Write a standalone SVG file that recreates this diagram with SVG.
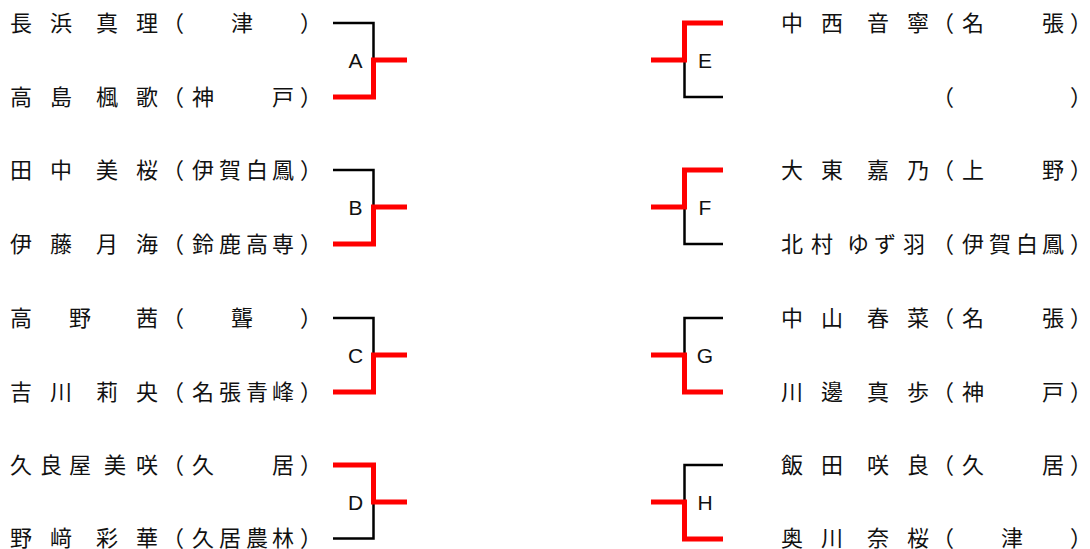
<svg xmlns="http://www.w3.org/2000/svg" width="1090" height="549" viewBox="0 0 1090 549">
<style>
.n{font-family:"Noto Sans CJK JP","Noto Sans CJK SC",sans-serif;font-size:22px;fill:#111}
.m{font-family:"Liberation Sans",Arial,sans-serif;font-size:21px;fill:#111;text-anchor:middle}
.k{fill:none;stroke:#000;stroke-width:2.5;stroke-linejoin:miter;stroke-linecap:butt}
.r{fill:none;stroke:#f00;stroke-width:5;stroke-linejoin:miter;stroke-linecap:butt}
</style>
<rect width="1090" height="549" fill="#fff"/>
<g id="connectors">
<path class="k" d="M333,23H373.5V60"/>
<path class="r" d="M333,97H373.5V60H407"/>
<path class="k" d="M333,170H373.5V207"/>
<path class="r" d="M333,244H373.5V207H407"/>
<path class="k" d="M333,318H373.5V355"/>
<path class="r" d="M333,392H373.5V355H407"/>
<path class="k" d="M333,538.5H373.5V502"/>
<path class="r" d="M333,465H373.5V502H407"/>
<path class="k" d="M723,97H684.5V60"/>
<path class="r" d="M723,23H684.5V60H651"/>
<path class="k" d="M723,244H684.5V207"/>
<path class="r" d="M723,170H684.5V207H651"/>
<path class="k" d="M723,318H684.5V355"/>
<path class="r" d="M723,392H684.5V355H651"/>
<path class="k" d="M723,465H684.5V502"/>
<path class="r" d="M723,539H684.5V502H651"/>
</g>
<g id="matchA"><text class="m" x="355.5" y="68">A</text></g>
<g id="matchB"><text class="m" x="355.5" y="215">B</text></g>
<g id="matchC"><text class="m" x="355.5" y="363">C</text></g>
<g id="matchD"><text class="m" x="355.5" y="510">D</text></g>
<g id="matchE"><text class="m" x="705" y="68">E</text></g>
<g id="matchF"><text class="m" x="705" y="215">F</text></g>
<g id="matchG"><text class="m" x="705" y="363">G</text></g>
<g id="matchH"><text class="m" x="705" y="510">H</text></g>
<g id="pA1"><text class="n" x="10 50 96 136 162 231 300" y="31">長浜真理（津）</text></g>
<g id="pA2"><text class="n" x="10 50 96 136 162 192 272 300" y="105">高島楓歌（神戸）</text></g>
<g id="pB1"><text class="n" x="10 50 96 136 162 192 219 246 272 300" y="178">田中美桜（伊賀白鳳）</text></g>
<g id="pB2"><text class="n" x="10 50 96 136 162 192 219 246 272 300" y="252">伊藤月海（鈴鹿高専）</text></g>
<g id="pC1"><text class="n" x="10 69 136 162 231 300" y="326">高野茜（聾）</text></g>
<g id="pC2"><text class="n" x="10 50 96 136 162 192 219 246 272 300" y="400">吉川莉央（名張青峰）</text></g>
<g id="pD1"><text class="n" x="10 40 69 104 136 162 192 272 300" y="473">久良屋美咲（久居）</text></g>
<g id="pD2"><text class="n" x="10 50 96 136 162 192 219 246 272 300" y="546">野﨑彩華（久居農林）</text></g>
<g id="pE1"><text class="n" x="781 821 867 907 932 962 1042 1070" y="31">中西音寧（名張）</text></g>
<g id="pE2"><text class="n" x="932 1070" y="105">（）</text></g>
<g id="pF1"><text class="n" x="781 821 867 907 932 962 1042 1070" y="178">大東嘉乃（上野）</text></g>
<g id="pF2"><text class="n" x="781 811 847 874 903 932 962 989 1016 1042 1070" y="252">北村ゆず羽（伊賀白鳳）</text></g>
<g id="pG1"><text class="n" x="781 821 867 907 932 962 1042 1070" y="326">中山春菜（名張）</text></g>
<g id="pG2"><text class="n" x="781 821 867 907 932 962 1042 1070" y="400">川邊真歩（神戸）</text></g>
<g id="pH1"><text class="n" x="781 821 867 907 932 962 1042 1070" y="473">飯田咲良（久居）</text></g>
<g id="pH2"><text class="n" x="781 821 867 907 932 1001 1070" y="546">奥川奈桜（津）</text></g>
</svg>
